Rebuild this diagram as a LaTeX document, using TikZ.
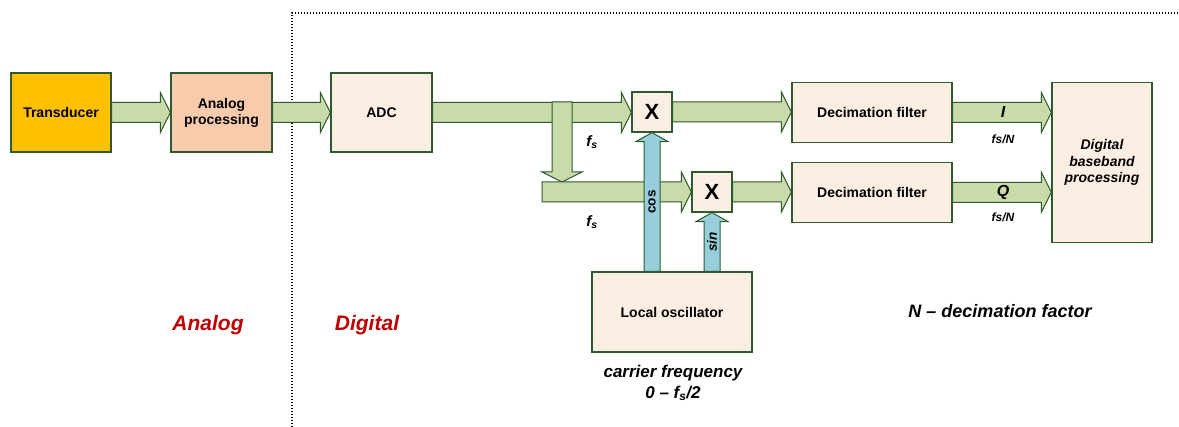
\documentclass[tikz,border=0pt]{standalone}
\usepackage{fontspec}
\setmainfont{Liberation Sans}
\usetikzlibrary{calc}

\definecolor{edge}{HTML}{2E5A2E}
\definecolor{peach}{HTML}{FDEEE4}
\definecolor{salmon}{HTML}{F8CBAD}
\definecolor{amber}{HTML}{FFC000}
\definecolor{leaf}{HTML}{C9DBA9}
\definecolor{aqua}{HTML}{96CEDB}
\definecolor{darkred}{HTML}{C00000}

% block arrows: right, up and down
\newcommand{\rblock}[2]{%
  \filldraw[greenarrow] let \p1=(#1), \p2=(#2) in
    (\x1,\y1+10pt) -- (\x2-10pt,\y1+10pt) -- (\x2-10pt,\y1+20pt) -- (\x2,\y1)
    -- (\x2-10pt,\y1-20pt) -- (\x2-10pt,\y1-10pt) -- (\x1,\y1-10pt) -- cycle;}
\newcommand{\ublock}[2]{%
  \filldraw[bluearrow] let \p1=(#1), \p2=(#2) in
    (\x1-8pt,\y1) -- (\x1-8pt,\y2-9pt) -- (\x1-16pt,\y2-9pt) -- (\x1,\y2)
    -- (\x1+16pt,\y2-9pt) -- (\x1+8pt,\y2-9pt) -- (\x1+8pt,\y1) -- cycle;}
\newcommand{\dblock}[2]{%
  \filldraw[greenarrow] let \p1=(#1), \p2=(#2) in
    (\x1-10pt,\y1) -- (\x1-10pt,\y2+10pt) -- (\x1-20pt,\y2+10pt) -- (\x1,\y2)
    -- (\x1+20pt,\y2+10pt) -- (\x1+10pt,\y2+10pt) -- (\x1+10pt,\y1) -- cycle;}

\begin{document}
\begin{tikzpicture}[x=1pt, y=-1pt,
  every node/.style={inner sep=0pt, align=center, font=\bfseries\fontsize{14}{16}\selectfont}
]
\tikzset{
  blok/.style={draw=edge, line width=1.2pt, fill=peach},
  greenarrow/.style={draw=edge, line width=1pt, fill=leaf},
  bluearrow/.style={draw=edge, line width=1pt, fill=aqua},
  mixer/.style={blok, minimum size=40pt, font=\bfseries\fontsize{22}{24}\selectfont},
  tag/.style={font=\bfseries\itshape\fontsize{15}{16}\selectfont},
  rate/.style={font=\bfseries\itshape\fontsize{12}{14}\selectfont},
  sidelabel/.style={text=darkred, font=\bfseries\itshape\fontsize{21}{24}\selectfont}
}
\useasboundingbox (0,0) rectangle (1179,427);

\draw[line width=1.1pt, dash pattern=on 1.1pt off 1.9pt] (292,427) -- (292,13) -- (1179,13);

\node[blok, fill=amber, minimum width=100pt, minimum height=79pt] (transducer) at (61,112.5) {Transducer};
\node[blok, fill=salmon, minimum width=101pt, minimum height=79pt] (analog) at (221.5,112.5) {Analog\\processing};
\node[blok, minimum width=101pt, minimum height=79pt] (adc) at (381.5,112.5) {ADC};
\node[mixer] (mixi) at (652,112) {X};
\node[mixer] (mixq) at (712,192) {X};
\node[blok, minimum width=160pt, minimum height=60pt] (decimi) at (872,112.5) {Decimation filter};
\node[blok, minimum width=160pt, minimum height=60pt] (decimq) at (872,192.3) {Decimation filter};
\node[blok, minimum width=100pt, minimum height=160pt, font=\bfseries\itshape\fontsize{14}{16.5}\selectfont] (baseband) at (1102,162.5) {Digital\\baseband\\processing};
\node[blok, minimum width=160pt, minimum height=80pt] (osc) at (672,312) {Local oscillator};

\coordinate (branch) at (562,102);
\coordinate (branchend) at (562,182);
\coordinate (lowstart) at (542,192);

\rblock{transducer.east}{analog.west}
\rblock{analog.east}{adc.west}
\rblock{adc.east}{mixi.west}
\dblock{branch}{branchend}
\rblock{lowstart}{mixq.west}
\rblock{mixi.east}{decimi.west}
\rblock{mixq.east}{decimq.west}
\rblock{decimi.east}{decimi.east -| baseband.west}
\rblock{decimq.east}{decimq.east -| baseband.west}
\ublock{osc.north -| mixi.south}{mixi.south}
\ublock{osc.north -| mixq.south}{mixq.south}

\node[rotate=90, font=\bfseries\fontsize{13.5}{14}\selectfont] (coslbl) at (652,202) {cos};
\node[rotate=90, font=\bfseries\itshape\fontsize{13.5}{14}\selectfont] (sinlbl) at (712,242) {sin};
\node[tag] (fsi) at (592,142) {f\textsubscript{s}};
\node[tag] (fsq) at (592,222) {f\textsubscript{s}};
\node[tag, font=\bfseries\itshape\fontsize{16}{18}\selectfont] (ilbl) at (1003,112) {I};
\node[rate] (irate) at (1003,139) {fs/N};
\node[tag, font=\bfseries\itshape\fontsize{16}{18}\selectfont] (qlbl) at (1003,192) {Q};
\node[rate] (qrate) at (1003,217) {fs/N};

\node[sidelabel] (analoglbl) at (208,325) {Analog};
\node[sidelabel] (digitallbl) at (367,325) {Digital};
\node[font=\bfseries\itshape\fontsize{18}{20}\selectfont] (nlbl) at (1000,311) {N -- decimation factor};
\node[font=\bfseries\itshape\fontsize{17}{20.6}\selectfont] (carrier) at (673,383) {carrier frequency\\0 -- f\textsubscript{s}/2};
\end{tikzpicture}
\end{document}
